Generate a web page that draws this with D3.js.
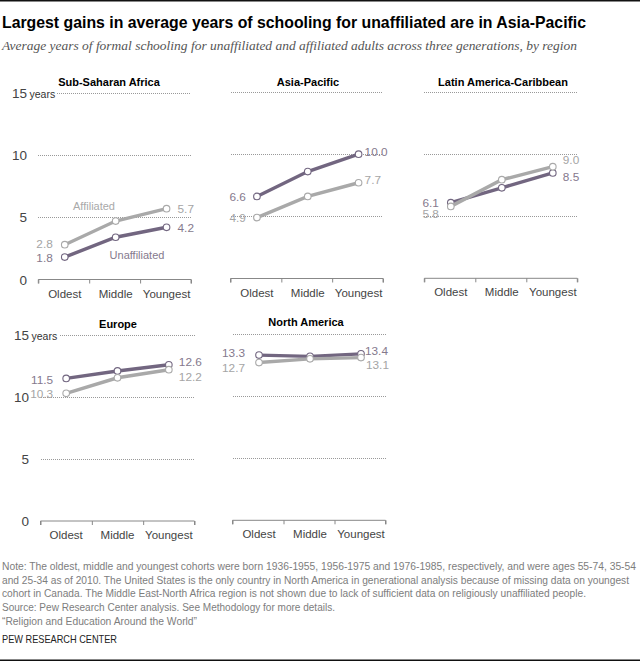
<!DOCTYPE html>
<html>
<head>
<meta charset="utf-8">
<title>Schooling</title>
<script src="https://d3js.org/d3.v7.min.js"></script>
<style>
	html,body{margin:0;padding:0;background:#fff;}
	svg{display:block;}
	text{font-family:"Liberation Sans",Arial,sans-serif;}
</style>
</head>
<body>
<svg width="640" height="662"></svg>
<script>
"use strict";

var cohorts=["Oldest","Middle","Youngest"];
var regions=["Sub-Saharan Africa","Asia-Pacific","Latin America-Caribbean","Europe","North America"];
var unaffiliated=[[1.8,3.4,4.2],[6.6,8.6,10.0],[6.1,7.3,8.5],[11.5,12.1,12.6],[13.3,13.2,13.4]];
var affiliated=[[2.8,4.7,5.7],[4.9,6.6,7.7],[5.8,7.95,9.0],[10.3,11.55,12.2],[12.7,13.0,13.1]];
var yTicks=[0,5,10,15];

var titleText="Largest gains in average years of schooling for unaffiliated are in Asia-Pacific";
var subtitleText="Average years of formal schooling for unaffiliated and affiliated adults across three generations, by region";
var noteLines=[
	"Note: The oldest, middle and youngest cohorts were born 1936-1955, 1956-1975 and 1976-1985, respectively, and were ages 55-74, 35-54",
	"and 25-34 as of 2010. The United States is the only country in North America in generational analysis because of missing data on youngest",
	"cohort in Canada. The Middle East-North Africa region is not shown due to lack of sufficient data on religiously unaffiliated people.",
	"Source: Pew Research Center analysis. See Methodology for more details.",
	"\u201cReligion and Education Around the World\u201d"
];

// panel frames
var panels=[
	{x0:38.3,x1:191,y0:279.5,y15:93,titleX:109,titleY:86,shift:1,yLabels:true,labelX:27},
	{x0:230.5,x1:383,y0:278.5,y15:92,titleX:308,titleY:86,shift:1,yLabels:false},
	{x0:424.3,x1:577.3,y0:278.3,y15:92.3,titleX:503,titleY:86,shift:1,yLabels:false},
	{x0:40.5,x1:194.5,y0:521,y15:335,titleX:118,titleY:328,shift:0,yLabels:true,labelX:29},
	{x0:232.5,x1:385.5,y0:520.3,y15:334,titleX:306,titleY:326,shift:1,yLabels:false}
];

// value label nudges: [dx,dy] for the first and last point of each line
var unaffNudge=[[[-12,1],[11,0]],[[-11,0],[6,-2]],[[-12,0],[10,4]],[[-13,1],[10,-3]],[[-14,-2],[4,-3.5]]];
var affNudge=[[[-12,-1],[11,0]],[[-11,0],[6,-3]],[[-12,7],[10,-7]],[[-13,0],[10,7]],[[-14,5],[5,7.5]]];

var unaffColor="#726680",affColor="#a9a9a9";
var unaffText="#85798d",affText="#a5a5a5";

var svg=d3.select("svg");

svg.append("rect").attr("x",0).attr("y",0).attr("width",640).attr("height",1.5).attr("fill","#111");
svg.append("rect").attr("x",0).attr("y",659.5).attr("width",640).attr("height",1.5).attr("fill","#111");

svg.append("text")
	.attr("x",2).attr("y",28)
	.attr("textLength",584).attr("lengthAdjust","spacingAndGlyphs")
	.style("font-size","16.5px").style("font-weight","bold").attr("fill","#000")
	.text(titleText);

svg.append("text")
	.attr("x",2).attr("y",50)
	.attr("textLength",575).attr("lengthAdjust","spacingAndGlyphs")
	.style("font-family","'Liberation Serif',serif").style("font-style","italic").style("font-size","13px").attr("fill","#555")
	.text(subtitleText);

panels.forEach(function(p,i){

	var yScale=d3.scaleLinear().domain([0,15]).range([p.y0,p.y15]);
	var xBand=d3.scaleBand().domain(cohorts).range([p.x0+p.shift,p.x1+p.shift]);
	var xEdge=d3.scaleLinear().domain([0,3]).range([p.x0,p.x1]);
	var xPoint=function(c){return xBand(c)+xBand.bandwidth()/2;};

	var g=svg.append("g").attr("class","panel");

	g.append("text")
		.attr("x",p.titleX)
		.attr("y",p.titleY)
		.attr("text-anchor","middle")
		.style("font-size","11px").style("font-weight","bold").attr("fill","#000")
		.text(regions[i]);

	// dotted gridlines
	g.selectAll("line.grid")
		.data(yTicks.slice(1))
		.enter().append("line")
		.attr("class","grid")
		.attr("x1",function(d){return (d==15&&p.yLabels) ? p.x0+19 : p.x0;})
		.attr("x2",p.x1)
		.attr("y1",function(d){return Math.round(yScale(d))+.5;})
		.attr("y2",function(d){return Math.round(yScale(d))+.5;})
		.attr("stroke","#999").attr("stroke-width",1).attr("stroke-dasharray","1,1")
		.attr("shape-rendering","crispEdges");

	// axis ticks sit on the band edges, the labels in the bands
	g.append("g")
		.attr("transform","translate(0,"+p.y0+")")
		.call(d3.axisBottom(xEdge).tickValues([0,1,2,3]).tickSize(4).tickFormat(""))
		.call(function(a){a.selectAll("path,line").attr("stroke","#888");a.select("path").attr("d","M"+p.x0+",4V0H"+p.x1+"V4");});

	g.append("g")
		.attr("transform","translate(0,"+(p.y0+6)+")")
		.call(d3.axisBottom(xBand).tickSize(0).tickPadding(4))
		.call(function(a){
			a.select("path").remove();
			a.selectAll("text").style("font-size","11.5px").style("font-family","'Liberation Sans',sans-serif").attr("fill","#444");
		});

	if(p.yLabels){
		g.selectAll("text.ylab")
			.data(yTicks)
			.enter().append("text")
			.attr("class","ylab")
			.attr("x",p.labelX)
			.attr("y",function(d){return yScale(d)+5;})
			.attr("text-anchor","end")
			.style("font-size","13.5px").attr("fill","#444")
			.text(function(d){return d;});
		g.append("text")
			.attr("x",p.labelX+2.5).attr("y",yScale(15)+5)
			.style("font-size","10.5px").attr("fill","#333")
			.text("years");
	}

	var line=d3.line()
		.x(function(d,j){return xPoint(cohorts[j]);})
		.y(function(d){return yScale(d);});

	[
		{values:unaffiliated[i],color:unaffColor,textColor:unaffText,nudge:unaffNudge[i]},
		{values:affiliated[i],color:affColor,textColor:affText,nudge:affNudge[i]}
	].forEach(function(s){
		g.append("path")
			.attr("d",line(s.values))
			.attr("fill","none").attr("stroke",s.color).attr("stroke-width",3.4);

		g.selectAll("circle.s"+s.color.slice(1))
			.data(s.values)
			.enter().append("circle")
			.attr("class","s"+s.color.slice(1))
			.attr("cx",function(d,j){return xPoint(cohorts[j]);})
			.attr("cy",function(d){return yScale(d);})
			.attr("r",3.3)
			.attr("fill","#fff").attr("stroke",s.color).attr("stroke-width",1.1);

		[0,2].forEach(function(j,k){
			g.append("text")
				.attr("x",xPoint(cohorts[j])+s.nudge[k][0])
				.attr("y",yScale(s.values[j])+s.nudge[k][1]+4.3)
				.attr("text-anchor",k==0?"end":"start")
				.style("font-size","11.8px").attr("fill",s.textColor)
				.text(s.values[j].toFixed(1));
		});
	});

	// line names only on the first panel
	if(i==0){
		g.append("text").attr("x",94).attr("y",210).attr("text-anchor","middle")
			.style("font-size","11px").attr("fill",affColor).text("Affiliated");
		g.append("text").attr("x",137).attr("y",259).attr("text-anchor","middle")
			.style("font-size","11px").attr("fill",unaffText).text("Unaffiliated");
	}
});

var noteY=[570,584,597,611,625];
var noteW=[634,627,584,333,195];

svg.selectAll("text.note")
	.data(noteLines)
	.enter().append("text")
	.attr("class","note")
	.attr("x",2)
	.attr("y",function(d,i){return noteY[i];})
	.attr("textLength",function(d,i){return noteW[i];})
	.attr("lengthAdjust","spacingAndGlyphs")
	.style("font-size","10px").attr("fill","#7d7d7d")
	.text(function(d){return d;});

svg.append("text")
	.attr("x",2).attr("y",643)
	.attr("textLength",115).attr("lengthAdjust","spacingAndGlyphs")
	.style("font-size","10.5px").attr("fill","#222")
	.text("PEW RESEARCH CENTER");
</script>
</body>
</html>
